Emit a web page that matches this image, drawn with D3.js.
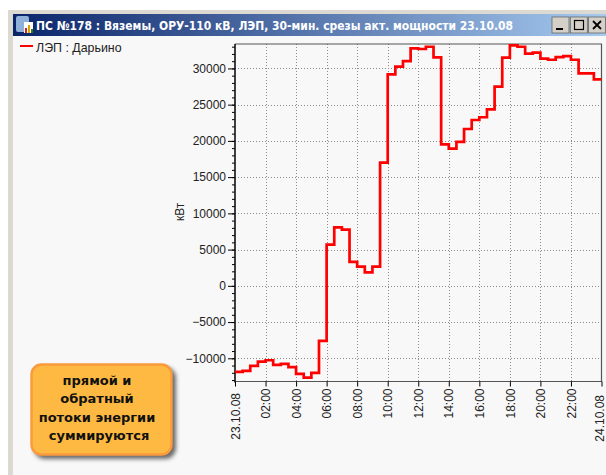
<!DOCTYPE html>
<html>
<head>
<meta charset="utf-8">
<script src="https://d3js.org/d3.v7.min.js"></script>
<style>
  html, body { margin: 0; padding: 0; background: #fff; }
  svg { display: block; }
  text { font-family: "Liberation Sans", Arial, sans-serif; }
</style>
</head>
<body>
<div id="chart"></div>
<script>
const titleText = 'ПС №178 : Вяземы, ОРУ-110 кВ, ЛЭП, 30-мин. срезы акт. мощности 23.10.08'
const seriesName = 'ЛЭП : Дарьино'
const yLabel = 'кВт'
const noteLines = ['прямой и', 'обратный', 'потоки энергии', 'суммируются']

// half-hour slices of 23.10.08, kW
const power = [
  -11880, -11740, -11050, -10450, -10270, -10910, -10770, -11230,
  -12150, -12660, -12010, -7600, 5690, 8080, 7760, 3300,
  2650, 1870, 2650, 17000, 29180, 30240, 31020, 32780,
  32680, 32990, 31530, 19530, 18920, 19860, 21640, 22880,
  23260, 24360, 27480, 31480, 33180, 32990, 32030, 32170,
  31340, 31200, 31570, 31710, 31200, 29320, 29320, 28500
]
const hourTicks = [0, 2, 4, 6, 8, 10, 12, 14, 16, 18, 20, 22, 24]
const hourLabels = ['23.10.08', '02:00', '04:00', '06:00', '08:00', '10:00', '12:00',
  '14:00', '16:00', '18:00', '20:00', '22:00', '24.10.08']
const valueTicks = [-10000, -5000, 0, 5000, 10000, 15000, 20000, 25000, 30000]

const width = 606, height = 475
const plot = {left: 235, right: 601.5, top: 44, bottom: 381.5}

const svg = d3.select('#chart').append('svg')
  .attr('width', width)
  .attr('height', height)

const defs = svg.append('defs')
const grad = defs.append('linearGradient').attr('id', 'titleGrad')
grad.append('stop').attr('offset', 0).attr('stop-color', '#0a246a')
grad.append('stop').attr('offset', 1).attr('stop-color', '#a6caf0')
const blur = defs.append('filter').attr('id', 'soft').attr('x', '-20%').attr('y', '-20%').attr('width', '140%').attr('height', '140%')
blur.append('feGaussianBlur').attr('stdDeviation', 2)

// window frame
svg.append('rect').attr('x', 8).attr('y', 10).attr('width', 598).attr('height', 465).attr('fill', '#dcd9d2')
svg.append('rect').attr('x', 13).attr('y', 36).attr('width', 593).attr('height', 439).attr('fill', '#f8f8f8')
svg.append('rect').attr('x', 13).attr('y', 14).attr('width', 593).attr('height', 22).attr('fill', 'url(#titleGrad)')

svg.append('text')
  .attr('x', 36).attr('y', 30)
  .attr('fill', '#fff')
  .attr('font-size', 12.4)
  .attr('font-weight', 'bold')
  .style('font-family', '"DejaVu Sans", sans-serif')
  .attr('textLength', 477)
  .attr('lengthAdjust', 'spacingAndGlyphs')
  .text(titleText)

// little title icon
const icon = svg.append('g').attr('transform', 'translate(16,16)')
icon.append('rect').attr('width', 13).attr('height', 16).attr('rx', 2).attr('fill', '#8fb0d8')
icon.append('rect').attr('x', 8).attr('y', 6).attr('width', 9).attr('height', 11).attr('fill', '#fff')
icon.append('rect').attr('x', 9).attr('y', 12).attr('width', 2).attr('height', 5).attr('fill', '#d02020')
icon.append('rect').attr('x', 12).attr('y', 9).attr('width', 2).attr('height', 8).attr('fill', '#e0a000')
icon.append('rect').attr('x', 15).attr('y', 13).attr('width', 2).attr('height', 4).attr('fill', '#208020')

// window buttons
const buttons = svg.append('g')
;[0, 1, 2].forEach(i => {
  const bx = 552 + i * 18.3
  buttons.append('rect').attr('x', bx).attr('y', 17).attr('width', 17).attr('height', 16)
    .attr('fill', '#d4d0c8').attr('stroke', '#666').attr('stroke-width', 0.8)
})
buttons.append('rect').attr('x', 556).attr('y', 28).attr('width', 7).attr('height', 2).attr('fill', '#000')
buttons.append('rect').attr('x', 574.5).attr('y', 20.5).attr('width', 9).attr('height', 9)
  .attr('fill', 'none').attr('stroke', '#000').attr('stroke-width', 1.2)
buttons.append('path').attr('d', 'M593,21L601,29M601,21L593,29').attr('stroke', '#000').attr('stroke-width', 1.8)

// scales
const x = d3.scaleLinear().domain([0, 24]).range([plot.left, plot.right])
const y = d3.scaleLinear().domain([-13200, 33370]).range([plot.bottom, plot.top])

// grid
const grid = svg.append('g')
  .attr('fill', 'none')
  .attr('stroke', '#8c8c8c')
  .attr('stroke-width', 1)
  .attr('stroke-dasharray', '1,2')
grid.selectAll('.gx').data(hourTicks.slice(1, -1)).join('line')
  .attr('x1', d => Math.round(x(d)) + 0.5).attr('x2', d => Math.round(x(d)) + 0.5)
  .attr('y1', plot.top).attr('y2', plot.bottom)
grid.selectAll('.gy').data(valueTicks).join('line')
  .attr('x1', plot.left).attr('x2', plot.right)
  .attr('y1', d => Math.round(y(d)) + 0.5).attr('y2', d => Math.round(y(d)) + 0.5)

// plot border
svg.append('path')
  .attr('d', `M${plot.left},${plot.top}H${plot.right}V${plot.bottom}H${plot.left}`)
  .attr('fill', 'none')
  .attr('stroke', '#555')
  .attr('stroke-width', 1.2)

// axes
const axisY = d3.axisLeft(y)
  .tickValues(valueTicks)
  .tickFormat(d3.format('d'))
  .tickSize(7)
  .tickPadding(2)
const minorTicks = d3.range(-13000, 34000, 1000)
const axisYMinor = d3.axisLeft(y).tickValues(minorTicks).tickFormat('').tickSize(3)

svg.append('g').attr('transform', `translate(${plot.left},0)`).call(axisYMinor)
  .call(g => g.select('.domain').remove())
const yG = svg.append('g').attr('transform', `translate(${plot.left},0)`).call(axisY)
yG.select('.domain').remove()
yG.selectAll('text').attr('font-size', 12).attr('fill', '#222')
  .style('font-family', '"Liberation Sans", Arial, sans-serif')
svg.append('line').attr('x1', plot.left).attr('x2', plot.left)
  .attr('y1', plot.top).attr('y2', plot.bottom + 1)
  .attr('stroke', '#111').attr('stroke-width', 1.6)

const axisX = d3.axisBottom(x)
  .tickValues(hourTicks)
  .tickFormat((d, i) => hourLabels[i])
  .tickSize(5)
const xG = svg.append('g').attr('transform', `translate(0,${plot.bottom})`).call(axisX)
xG.select('.domain').remove()
xG.selectAll('text')
  .attr('font-size', 12)
  .attr('fill', '#222')
  .style('font-family', '"Liberation Sans", Arial, sans-serif')
  .attr('text-anchor', 'end')
  .attr('transform', 'rotate(-90)')
  .attr('x', d => d === 0 ? -11.5 : d === 24 ? -13.5 : -7)
  .attr('y', d => d === 24 ? -2 : 0)
  .attr('dy', '0.35em')

svg.append('text')
  .attr('transform', `translate(180,${y(10200)}) rotate(-90)`)
  .attr('text-anchor', 'middle')
  .attr('font-size', 12)
  .attr('fill', '#222')
  .attr('dy', '0.35em')
  .text(yLabel)

// power line, last value held to the end of the day
const stepData = power.map((d, i) => [i / 2, d]).concat([[24, power[power.length - 1]]])
const line = d3.line()
  .x(d => x(d[0]))
  .y(d => y(d[1]))
  .curve(d3.curveStepAfter)
svg.append('path')
  .datum(stepData)
  .attr('d', line)
  .attr('fill', 'none')
  .attr('stroke', '#ff0000')
  .attr('stroke-width', 2.7)
  .attr('stroke-linejoin', 'miter')

// legend
svg.append('line').attr('x1', 20).attr('x2', 33).attr('y1', 46).attr('y2', 46)
  .attr('stroke', '#ff0000').attr('stroke-width', 2)
svg.append('text').attr('x', 36).attr('y', 52)
  .attr('font-size', 12.4).attr('fill', '#222').text(seriesName)

// note box
svg.append('rect').attr('x', 34).attr('y', 367).attr('width', 142).attr('height', 92).attr('rx', 11)
  .attr('fill', '#444').attr('opacity', 0.8).attr('filter', 'url(#soft)')
svg.append('rect').attr('x', 31.5).attr('y', 364.5).attr('width', 140).attr('height', 90).attr('rx', 10)
  .attr('fill', '#fdb941')
  .attr('stroke', '#fb9a3c')
  .attr('stroke-width', 2.4)
svg.append('g').selectAll('text').data(noteLines).join('text')
  .attr('x', (d, i) => 97 + (i === 3 ? 2 : 0))
  .attr('y', (d, i) => 385 + i * 18.3)
  .attr('text-anchor', 'middle')
  .attr('font-size', 13)
  .attr('font-weight', 'bold')
  .attr('fill', '#111')
  .style('font-family', '"DejaVu Sans", sans-serif')
  .text(d => d)
</script>
</body>
</html>
